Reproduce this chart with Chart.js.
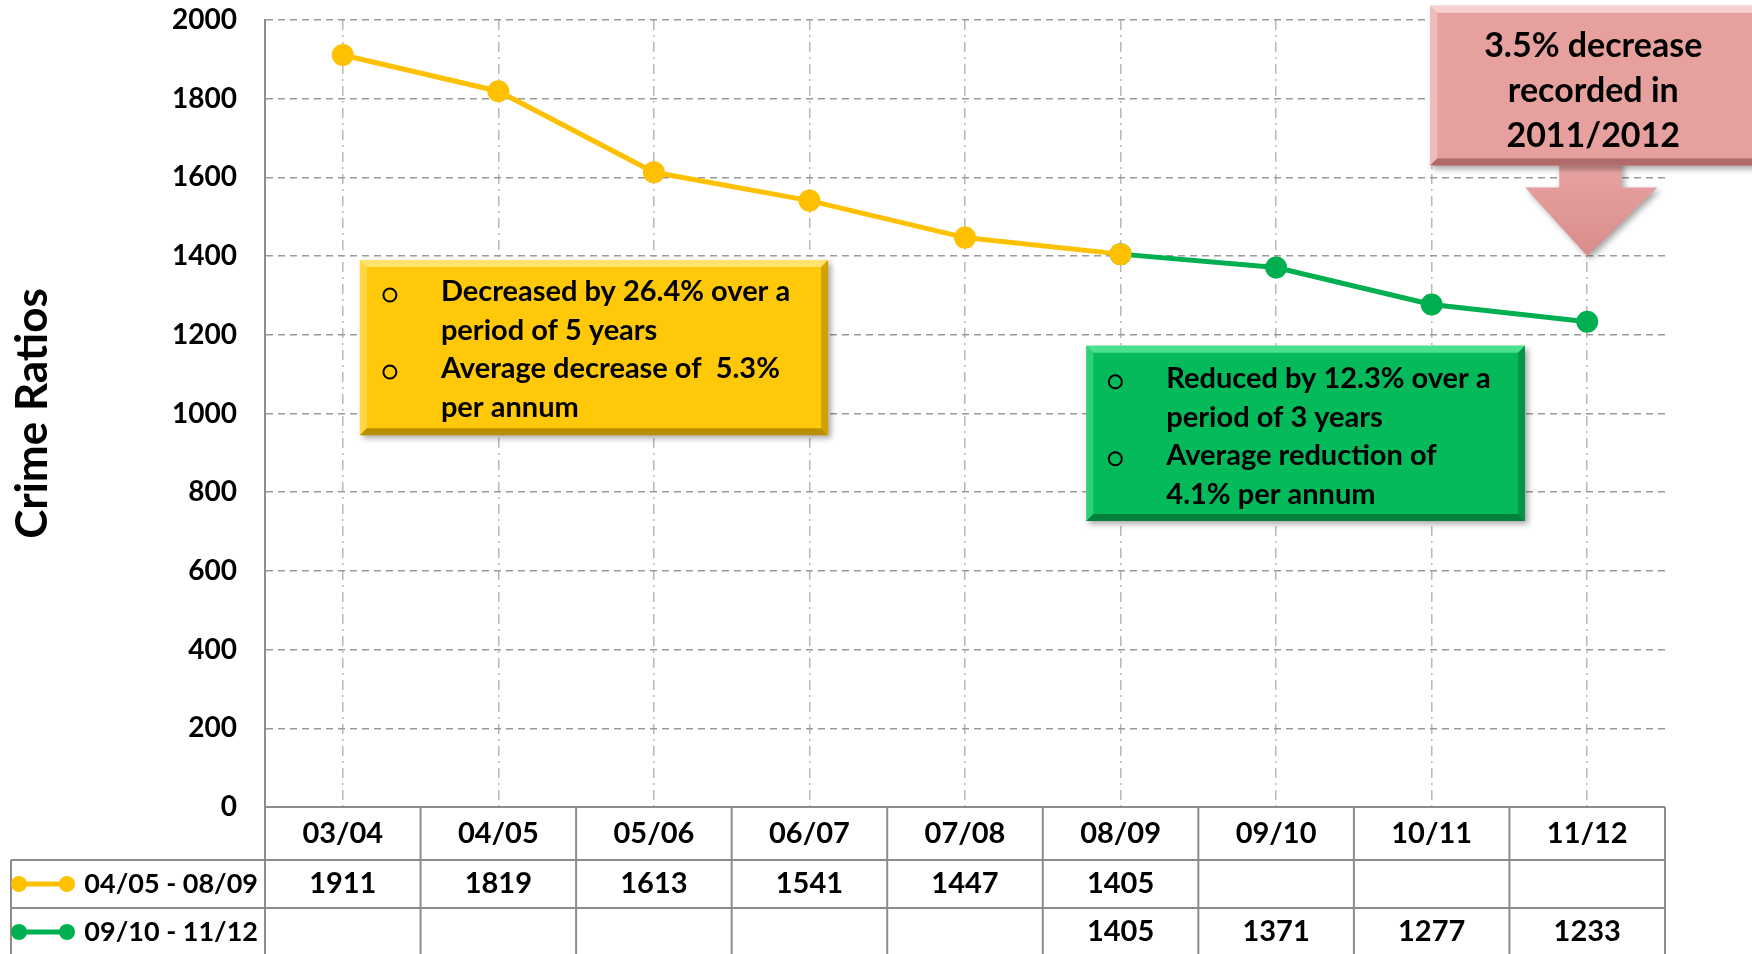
<!DOCTYPE html>
<html>
<head>
<meta charset="utf-8">
<script src="https://cdn.jsdelivr.net/npm/chart.js@4.4.1/dist/chart.umd.min.js"></script>
<style>
html, body { margin: 0; padding: 0; background: #fff; overflow: hidden; }
#wrap { width: 1752px; height: 954px; }
</style>
</head>
<body>
<div id="wrap"><canvas id="crimeChart"></canvas></div>
<script>
var years = ['03/04', '04/05', '05/06', '06/07', '07/08', '08/09', '09/10', '10/11', '11/12'];
var label1 = '04/05 - 08/09';
var vals1 = [1911, 1819, 1613, 1541, 1447, 1405, null, null, null];
var label2 = '09/10 - 11/12';
var vals2 = [null, null, null, null, null, 1405, 1371, 1277, 1233];
var yMin = 0, yMax = 2000, yStep = 200;

var note1 = [['Decreased by 26.4% over a', 'period of 5 years'], ['Average decrease of  5.3%', 'per annum']];
var note2 = [['Reduced by 12.3% over a', 'period of 3 years'], ['Average reduction of', '4.1% per annum']];
var note3 = ['3.5% decrease', 'recorded in', '2011/2012'];

var FONT = 'Lato, "Open Sans", sans-serif';
var yellow = '#FFC000';
var green = '#00B050';

function bevelBox(ctx, x, y, w, h, fill, light, dark) {
    var b = 7;
    ctx.save();
    ctx.shadowColor = 'rgba(0,0,0,0.35)';
    ctx.shadowBlur = 6;
    ctx.shadowOffsetX = 3;
    ctx.shadowOffsetY = 3;
    ctx.fillStyle = fill;
    ctx.fillRect(x, y, w, h);
    ctx.restore();
    ctx.save();
    // top edge
    ctx.fillStyle = light;
    ctx.beginPath();
    ctx.moveTo(x, y); ctx.lineTo(x + w, y); ctx.lineTo(x + w - b, y + b); ctx.lineTo(x + b, y + b);
    ctx.closePath(); ctx.fill();
    // left edge
    ctx.globalAlpha = 0.6;
    ctx.beginPath();
    ctx.moveTo(x, y); ctx.lineTo(x + b, y + b); ctx.lineTo(x + b, y + h - b); ctx.lineTo(x, y + h);
    ctx.closePath(); ctx.fill();
    // right edge
    ctx.fillStyle = dark;
    ctx.beginPath();
    ctx.moveTo(x + w, y); ctx.lineTo(x + w, y + h); ctx.lineTo(x + w - b, y + h - b); ctx.lineTo(x + w - b, y + b);
    ctx.closePath(); ctx.fill();
    // bottom edge
    ctx.globalAlpha = 0.9;
    ctx.beginPath();
    ctx.moveTo(x, y + h); ctx.lineTo(x + w, y + h); ctx.lineTo(x + w - b, y + h - b); ctx.lineTo(x + b, y + h - b);
    ctx.closePath(); ctx.fill();
    ctx.restore();
}

function bulletText(ctx, items, bx, tx, y0, lh) {
    ctx.save();
    ctx.fillStyle = '#000';
    ctx.strokeStyle = '#000';
    ctx.lineWidth = 2;
    ctx.font = 'bold 29px ' + FONT;
    ctx.textAlign = 'left';
    ctx.textBaseline = 'middle';
    var y = y0;
    items.forEach(function (item) {
        ctx.beginPath();
        ctx.arc(bx, y + 3, 6.5, 0, Math.PI * 2);
        ctx.stroke();
        item.forEach(function (line) {
            ctx.fillText(line, tx, y);
            y += lh;
        });
    });
    ctx.restore();
}

var notesPlugin = {
    id: 'notes',
    afterDatasetsDraw: function (chart) {
        var ctx = chart.ctx, xs = chart.scales.x, ys = chart.scales.y;

        // yellow note
        var x1 = xs.getPixelForValue(0.11), x2 = xs.getPixelForValue(3.12);
        var y1 = ys.getPixelForValue(1390), y2 = ys.getPixelForValue(945);
        bevelBox(ctx, x1, y1, x2 - x1, y2 - y1, '#FFC90A', '#FFE36A', '#B08800');
        bulletText(ctx, note1, x1 + 30, x1 + 81, y1 + 32, 38.5);

        // green note
        x1 = xs.getPixelForValue(4.78); x2 = xs.getPixelForValue(7.6);
        y1 = ys.getPixelForValue(1172); y2 = ys.getPixelForValue(727);
        bevelBox(ctx, x1, y1, x2 - x1, y2 - y1, '#05BA5A', '#4AE08E', '#047A3A');
        bulletText(ctx, note2, x1 + 29, x1 + 80, y1 + 33, 38.5);

        // pink arrow callout pointing at 11/12
        var tipX = xs.getPixelForValue(8), tipY = ys.getPixelForValue(1400);
        var bx1 = xs.getPixelForValue(6.99), bx2 = chart.width;
        var by1 = ys.getPixelForValue(2036), by2 = ys.getPixelForValue(1630);
        var headTop = by2 + 22;
        ctx.save();
        ctx.shadowColor = 'rgba(0,0,0,0.35)';
        ctx.shadowBlur = 6;
        ctx.shadowOffsetX = 3;
        ctx.shadowOffsetY = 3;
        var g = ctx.createLinearGradient(0, by2, 0, tipY);
        g.addColorStop(0, '#E8A3A2');
        g.addColorStop(1, '#D98C8B');
        ctx.fillStyle = g;
        ctx.beginPath();
        ctx.moveTo(tipX - 28, by2 - 5);
        ctx.lineTo(tipX + 34, by2 - 5);
        ctx.lineTo(tipX + 34, headTop);
        ctx.lineTo(tipX + 70, headTop);
        ctx.lineTo(tipX, tipY);
        ctx.lineTo(tipX - 62, headTop);
        ctx.lineTo(tipX - 28, headTop);
        ctx.closePath();
        ctx.fill();
        ctx.restore();
        bevelBox(ctx, bx1, by1, bx2 - bx1 + 10, by2 - by1, '#E6A19F', '#F6CFCE', '#A86463');
        ctx.save();
        ctx.fillStyle = '#000';
        ctx.font = 'bold 34px ' + FONT;
        ctx.textAlign = 'center';
        ctx.textBaseline = 'middle';
        note3.forEach(function (line, i) {
            ctx.fillText(line, tipX + 6, by1 + 40 + i * 45);
        });
        ctx.restore();
    }
};

var tablePlugin = {
    id: 'dataTable',
    afterDraw: function (chart) {
        var ctx = chart.ctx, xs = chart.scales.x, area = chart.chartArea;
        var step = xs.getPixelForValue(1) - xs.getPixelForValue(0);
        var left = xs.getPixelForValue(0) - step / 2;
        var right = xs.getPixelForValue(years.length - 1) + step / 2;
        var tableLeft = 11;
        var rows = [area.bottom, area.bottom + 53, area.bottom + 101, area.bottom + 149];

        ctx.save();
        ctx.strokeStyle = '#8c8c8c';
        ctx.lineWidth = 2;
        ctx.beginPath();
        ctx.moveTo(left, rows[0]); ctx.lineTo(right, rows[0]);
        ctx.moveTo(tableLeft, rows[1]); ctx.lineTo(right, rows[1]);
        ctx.moveTo(tableLeft, rows[2]); ctx.lineTo(right, rows[2]);
        ctx.moveTo(tableLeft, rows[1]); ctx.lineTo(tableLeft, rows[3]);
        for (var i = 0; i <= years.length; i++) {
            var vx = left + i * step;
            ctx.moveTo(vx, rows[0]); ctx.lineTo(vx, rows[3]);
        }
        ctx.stroke();

        ctx.fillStyle = '#000';
        ctx.font = 'bold 29px ' + FONT;
        ctx.textAlign = 'center';
        ctx.textBaseline = 'middle';
        years.forEach(function (yr, i) {
            ctx.fillText(yr, xs.getPixelForValue(i), (rows[0] + rows[1]) / 2);
        });

        chart.data.datasets.forEach(function (ds, d) {
            var cy = (rows[d + 1] + rows[d + 2]) / 2;
            ctx.font = 'bold 29px ' + FONT;
            ds.data.forEach(function (v, i) {
                if (v !== null) ctx.fillText(String(v), xs.getPixelForValue(i), cy);
            });
            // legend key
            ctx.strokeStyle = ds.borderColor;
            ctx.lineWidth = 5;
            ctx.beginPath();
            ctx.moveTo(19, cy); ctx.lineTo(67, cy);
            ctx.stroke();
            ctx.fillStyle = ds.borderColor;
            [19, 67].forEach(function (px) {
                ctx.beginPath();
                ctx.arc(px, cy, 8, 0, Math.PI * 2);
                ctx.fill();
            });
            ctx.fillStyle = '#000';
            ctx.font = 'bold 27px ' + FONT;
            ctx.textAlign = 'right';
            ctx.fillText(ds.label, 258, cy);
            ctx.textAlign = 'center';
        });
        ctx.restore();
    }
};

var ctx = document.getElementById('crimeChart').getContext('2d');
var crimeChart = new Chart(ctx, {
    type: 'line',
    data: {
        labels: years,
        datasets: [{
            label: label1,
            data: vals1,
            borderColor: yellow,
            backgroundColor: yellow,
            borderWidth: 5,
            pointRadius: 8.5,
            pointBackgroundColor: yellow,
            pointBorderColor: yellow
        }, {
            label: label2,
            data: vals2,
            borderColor: green,
            backgroundColor: green,
            borderWidth: 5,
            pointRadius: 8.5,
            pointBackgroundColor: green,
            pointBorderColor: green
        }]
    },
    options: {
        responsive: true,
        maintainAspectRatio: false,
        animation: false,
        layout: { padding: { top: 20, right: 87, left: 0, bottom: 0 } },
        plugins: {
            legend: { display: false },
            tooltip: { enabled: false }
        },
        scales: {
            x: {
                offset: true,
                ticks: { display: false },
                border: { display: false, dash: [10, 5, 2, 5] },
                grid: { offset: false, drawTicks: false, color: '#b8b8b8', lineWidth: 1.5 },
                afterFit: function (s) { s.height = 147; s.paddingLeft = 0; s.paddingRight = 0; }
            },
            y: {
                min: yMin,
                max: yMax,
                ticks: {
                    stepSize: yStep,
                    padding: 28,
                    color: '#000',
                    font: { family: FONT, size: 28, weight: 'bold' },
                    callback: function (v) { return String(v); }
                },
                border: { display: true, color: '#8c8c8c', width: 2, dash: [7, 5] },
                grid: { drawTicks: false, color: '#999', lineWidth: 1.5 },
                title: {
                    display: true,
                    text: 'Crime Ratios',
                    color: '#000',
                    padding: { top: 6, bottom: 0 },
                    font: { family: FONT, size: 44, weight: 'bold' }
                },
                afterFit: function (s) { s.width = 265; s.paddingTop = 0; s.paddingBottom = 0; }
            }
        }
    },
    plugins: [notesPlugin, tablePlugin]
});
</script>
</body>
</html>
